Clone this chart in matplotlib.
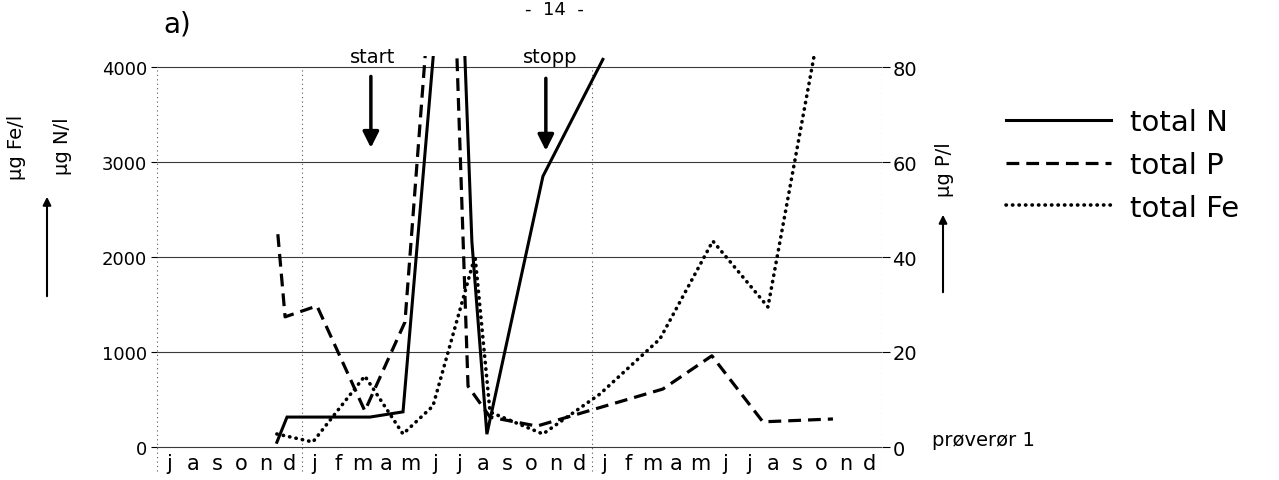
import matplotlib
matplotlib.use('Agg')
import matplotlib.pyplot as plt
import numpy as np

# months: Jul year 1 .. Dec year 3, label at middle of each month
months = ['j','a','s','o','n','d',
          'j','f','m','a','m','j','j','a','s','o','n','d',
          'j','f','m','a','m','j','j','a','s','o','n','d']

# total N (ug N/l, left axis), x in months from 1 July year 1
# peak in jun/jul is off the scale of the chart
n_x = [4.96, 5.38, 8.81, 10.18, 11.6, 12.65, 13.03, 13.65, 15.97, 18.45]
n_y = [50, 315, 315, 370, 4620, 4715, 2160, 135, 2850, 4080]

# total P (ug P/l, right axis)
p_x = [5.0, 5.3, 6.62, 8.6, 10.26, 11.3, 12.3, 12.87, 13.78, 15.72, 20.93, 22.96, 25.07, 27.97]
p_y = [44.8, 27.4, 29.7, 7.6, 26.3, 96, 99, 12.8, 6.3, 4.4, 12.2, 19.2, 5.3, 5.9]

# total Fe (ug Fe/l, left axis)
fe_x = [4.96, 6.45, 8.6, 10.18, 11.42, 13.16, 13.78, 15.97, 18.33, 20.81, 23.0, 25.28, 27.22]
fe_y = [137, 53, 747, 137, 432, 2011, 368, 137, 558, 1137, 2168, 1474, 4158]

left_ticks = [0, 1000, 2000, 3000, 4000]
right_ticks = [0, 20, 40, 60, 80]
year_lines = [0, 6, 18, 30]

W, H = 1279, 481
plt.rcParams['font.family'] = ['DejaVu Sans']

fig = plt.figure(figsize=(W/100, H/100), dpi=100)
# 0 -> 448 px, 4000 -> 68 px; top of the axes cuts the lines just above 4000
ax = fig.add_axes([157/W, 1-476.5/H, 725/W, 419.9/H])
ax.set_xlim(0, 30)
ax.set_ylim(-300, 4120)
for s in ax.spines.values():
    s.set_visible(False)
ax.spines['bottom'].set_position(('data', 0))

ax.hlines(left_ticks, 0, 30, color='#3a3a3a', lw=0.8, zorder=1)
ax.vlines(year_lines, -250, 4000, color='#555555', lw=0.8, linestyles=(0, (1, 3)), zorder=1)

ax.set_xticks(np.arange(len(months)) + 0.5)
ax.set_xticklabels(months, fontsize=15)
ax.tick_params(axis='x', length=0, pad=4)
ax.set_yticks(left_ticks)
ax.set_yticklabels([str(v) for v in left_ticks], fontsize=13)
ax.tick_params(axis='y', length=4, pad=3, width=0.8)

ax2 = ax.twinx()
ax2.set_ylim(-6, 82.4)
for s in ax2.spines.values():
    s.set_visible(False)
ax2.set_yticks(right_ticks)
ax2.set_yticklabels([str(v) for v in right_ticks], fontsize=14)
ax2.tick_params(axis='y', length=6, pad=1.5, width=0.8)

lN, = ax.plot(n_x, n_y, color='black', lw=2.2, solid_joinstyle='miter', label='total N')
lFe, = ax.plot(fe_x, fe_y, color='black', lw=2.6, linestyle=(0, (0.1, 1.7)),
               dash_capstyle='round', label='total Fe')
lP, = ax2.plot(p_x, p_y, color='black', lw=2.3, linestyle=(0, (4, 2.2)), label='total P')

# start / stopp markers
ax.text(8.94, 4010, 'start', ha='center', va='bottom', fontsize=14)
ax.annotate('', xy=(8.85, 3120), xytext=(8.85, 3930),
            arrowprops=dict(arrowstyle='-|>', lw=2.5, color='black', mutation_scale=24))
ax.text(16.26, 4010, 'stopp', ha='center', va='bottom', fontsize=14)
ax.annotate('', xy=(16.09, 3090), xytext=(16.09, 3910),
            arrowprops=dict(arrowstyle='-|>', lw=2.5, color='black', mutation_scale=24))

# axis titles
fig.text(17/W, 1-147/H, 'µg Fe/l', rotation=90, ha='center', va='center', fontsize=14)
fig.text(62/W, 1-146/H, 'µg N/l', rotation=90, ha='center', va='center', fontsize=14)
fig.text(945/W, 1-170/H, 'µg P/l', rotation=90, ha='center', va='center', fontsize=14)
ax.annotate('', xy=(47/W, 1-195/H), xytext=(47/W, 1-300/H), xycoords='figure fraction',
            arrowprops=dict(arrowstyle='-|>', lw=1.5, color='black', mutation_scale=12))
ax.annotate('', xy=(943/W, 1-213/H), xytext=(943/W, 1-296/H), xycoords='figure fraction',
            arrowprops=dict(arrowstyle='-|>', lw=1.5, color='black', mutation_scale=12))

fig.text(177/W, 1-25/H, 'a)', ha='center', va='center', fontsize=20)
fig.text(554/W, 1-1/H, '-  14  -', ha='center', va='top', fontsize=13)
fig.text(932/W, 1-440/H, 'prøverør 1', ha='left', va='center', fontsize=14)

fig.legend(handles=[lN, lP, lFe], loc='center left', bbox_to_anchor=(1006/W, 1-166/H),
           frameon=False, fontsize=21, handlelength=3.6, handletextpad=0.65,
           labelspacing=0.5, borderpad=0, borderaxespad=0)

fig.savefig('out.png', dpi=100)
